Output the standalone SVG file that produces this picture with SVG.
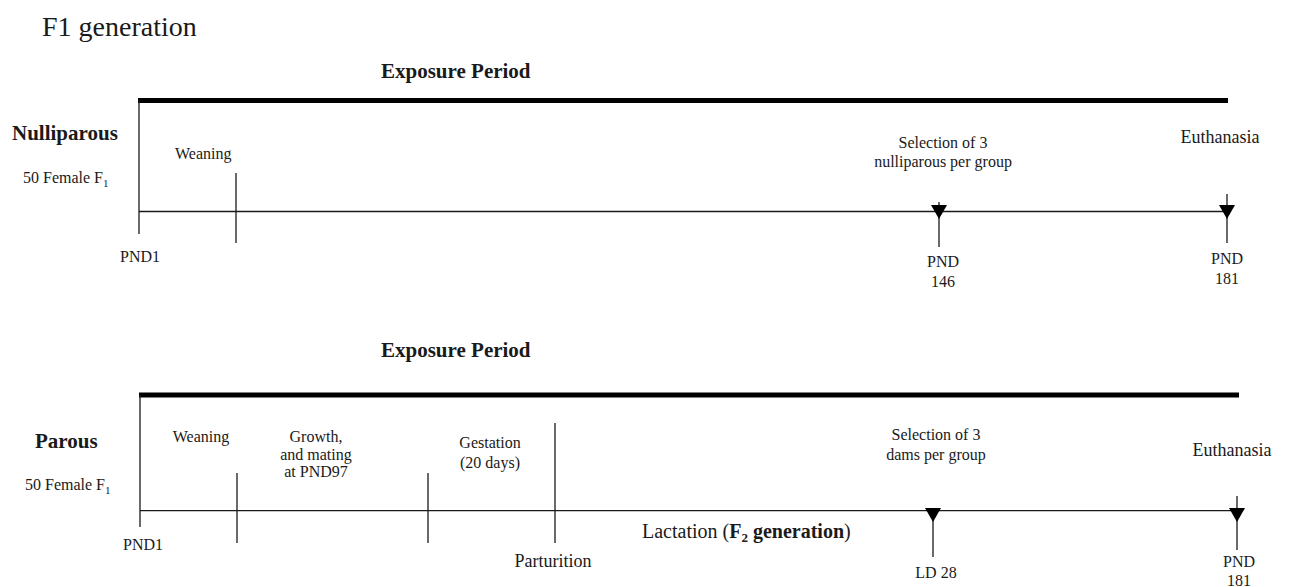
<svg xmlns="http://www.w3.org/2000/svg" width="1289" height="587" viewBox="0 0 1289 587">
<style>
text{font-family:"Liberation Serif","Times New Roman",serif;fill:#1a1a1a}
.t{font-size:16px}
.b{font-weight:bold}
.ln{stroke:#1a1a1a;stroke-width:1.3;fill:none}
.thick{stroke:#000;stroke-width:5;fill:none}
.tri{fill:#000}
</style>
<rect width="1289" height="587" fill="#fff"/>
<text x="42" y="36" style="font-size:28px">F1 generation</text>

<g id="nulliparous">
  <text x="381" y="78" class="b" style="font-size:21px">Exposure Period</text>
  <text x="12" y="140" class="b" style="font-size:21px">Nulliparous</text>
  <text x="23" y="183" class="t">50 Female F<tspan dy="4" style="font-size:11px">1</tspan></text>
  <text x="175" y="159" class="t">Weaning</text>
  <text x="120" y="262" class="t">PND1</text>
  <text x="943" y="148" class="t" text-anchor="middle">Selection of 3</text>
  <text x="943" y="167" class="t" text-anchor="middle">nulliparous per group</text>
  <text x="1220" y="143" text-anchor="middle" style="font-size:18px">Euthanasia</text>
  <text x="943" y="267" class="t" text-anchor="middle">PND</text>
  <text x="943" y="287" class="t" text-anchor="middle">146</text>
  <text x="1227" y="264" class="t" text-anchor="middle">PND</text>
  <text x="1227" y="284" class="t" text-anchor="middle">181</text>
</g>

<g id="parous">
  <text x="381" y="357" class="b" style="font-size:21px">Exposure Period</text>
  <text x="35" y="448" class="b" style="font-size:21px">Parous</text>
  <text x="25" y="490" class="t">50 Female F<tspan dy="4" style="font-size:11px">1</tspan></text>
  <text x="201" y="442" class="t" text-anchor="middle">Weaning</text>
  <text x="316" y="442" class="t" text-anchor="middle">Growth,</text>
  <text x="316" y="460" class="t" text-anchor="middle">and mating</text>
  <text x="316" y="477" class="t" text-anchor="middle">at PND97</text>
  <text x="490" y="448" class="t" text-anchor="middle">Gestation</text>
  <text x="490" y="468" class="t" text-anchor="middle">(20 days)</text>
  <text x="553" y="567" text-anchor="middle" style="font-size:18px">Parturition</text>
  <text x="642" y="538" style="font-size:20px">Lactation (<tspan class="b">F<tspan dy="4" style="font-size:13px">2</tspan><tspan dy="-4"> generation</tspan></tspan>)</text>
  <text x="123" y="550" class="t">PND1</text>
  <text x="936" y="440" class="t" text-anchor="middle">Selection of 3</text>
  <text x="936" y="460" class="t" text-anchor="middle">dams per group</text>
  <text x="1232" y="456" text-anchor="middle" style="font-size:18px">Euthanasia</text>
  <text x="936" y="578" class="t" text-anchor="middle">LD 28</text>
  <text x="1239" y="567" class="t" text-anchor="middle">PND</text>
  <text x="1239" y="586" class="t" text-anchor="middle">181</text>
</g>

<g id="connectors">
  <line class="thick" x1="138" y1="100.5" x2="1228" y2="100.5"/>
  <line class="ln" x1="139" y1="100" x2="139" y2="234"/>
  <line class="ln" x1="139" y1="211.5" x2="1228" y2="211.5"/>
  <line class="ln" x1="236" y1="173" x2="236" y2="243"/>
  <line class="ln" x1="939" y1="202" x2="939" y2="247"/>
  <polygon class="tri" points="931,205 947,205 939,219"/>
  <line class="ln" x1="1227" y1="194" x2="1227" y2="243"/>
  <polygon class="tri" points="1219,205 1235,205 1227,219"/>
  <line class="thick" x1="139" y1="395" x2="1239" y2="395"/>
  <line class="ln" x1="140" y1="395" x2="140" y2="527"/>
  <line class="ln" x1="140" y1="510.7" x2="1238" y2="510.7"/>
  <line class="ln" x1="237" y1="473" x2="237" y2="543"/>
  <line class="ln" x1="428" y1="473" x2="428" y2="543"/>
  <line class="ln" x1="555" y1="423" x2="555" y2="543"/>
  <line class="ln" x1="933" y1="508" x2="933" y2="557"/>
  <polygon class="tri" points="925,508 941,508 933,522"/>
  <line class="ln" x1="1237" y1="496" x2="1237" y2="550"/>
  <polygon class="tri" points="1229,508 1245,508 1237,522"/>
</g>
</svg>
